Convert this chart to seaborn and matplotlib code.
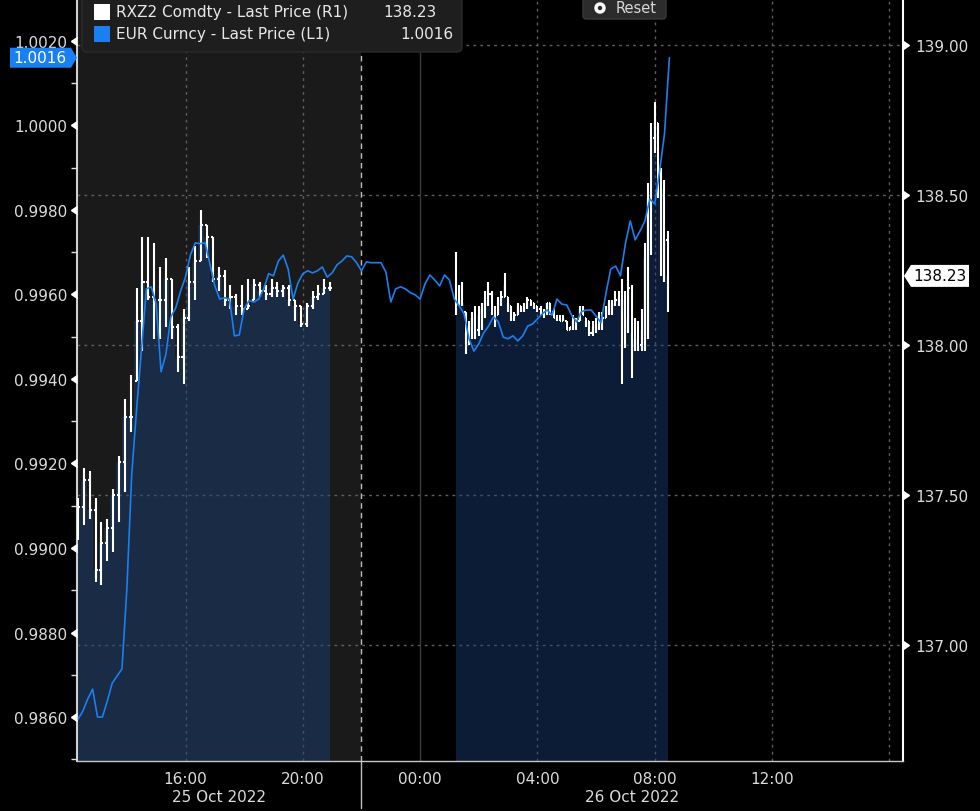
import numpy as np
import pandas as pd
import matplotlib
matplotlib.use("Agg")
import matplotlib.pyplot as plt
import matplotlib.dates as mdates
import matplotlib.transforms as mtransforms
from matplotlib.patches import FancyBboxPatch, Polygon, Rectangle, Circle
from matplotlib.ticker import MultipleLocator
import seaborn as sns

# EUR Curncy last price, 10 minute samples from 25 Oct 12:20 to 26 Oct 08:30
EUR_START = "2022-10-25 12:20"
eur_last = [
    0.98595, 0.98614, 0.98643, 0.98666, 0.98600, 0.98600, 0.98638, 0.98680, 0.98697, 0.98714,
    0.98903, 0.99175, 0.99329, 0.99471, 0.99613, 0.99618, 0.99577, 0.99417, 0.99459, 0.99547,
    0.99568, 0.99608, 0.99641, 0.99693, 0.99722, 0.99720, 0.99722, 0.99672, 0.99620, 0.99589,
    0.99592, 0.99589, 0.99502, 0.99504, 0.99566, 0.99585, 0.99582, 0.99589, 0.99613, 0.99649,
    0.99644, 0.99679, 0.99693, 0.99660, 0.99589, 0.99627, 0.99649, 0.99656, 0.99651, 0.99656,
    0.99665, 0.99641, 0.99651, 0.99670, 0.99679, 0.99691, 0.99689, 0.99675, 0.99656, 0.99677,
    0.99675, 0.99675, 0.99675, 0.99653, 0.99582, 0.99613, 0.99618, 0.99613, 0.99604, 0.99599,
    0.99589, 0.99625, 0.99646, 0.99634, 0.99620, 0.99646, 0.99634, 0.99589, 0.99573, 0.99554,
    0.99495, 0.99466, 0.99483, 0.99509, 0.99525, 0.99547, 0.99535, 0.99499, 0.99495, 0.99502,
    0.99490, 0.99502, 0.99525, 0.99530, 0.99542, 0.99554, 0.99563, 0.99551, 0.99589, 0.99577,
    0.99575, 0.99551, 0.99535, 0.99559, 0.99563, 0.99563, 0.99549, 0.99533, 0.99601, 0.99660,
    0.99667, 0.99644, 0.99720, 0.99774, 0.99729, 0.99750, 0.99774, 0.99826, 0.99814, 0.99892,
    0.99980, 1.00160,
]

# RXZ2 Comdty bars, first session (12 minute bars from 25 Oct 12:20)
RX1_START = "2022-10-25 12:20"
rx1_high = [137.49, 137.59, 137.58, 137.49, 137.41, 137.42, 137.52, 137.63, 137.82, 137.90,
            138.19, 138.36, 138.36, 138.34, 138.26, 138.29, 138.22, 138.07, 138.12, 138.26,
            138.33, 138.45, 138.40, 138.36, 138.26, 138.25, 138.20, 138.17, 138.20, 138.22,
            138.22, 138.21, 138.20, 138.22, 138.21, 138.20, 138.20, 138.15, 138.13, 138.14,
            138.18, 138.20, 138.22, 138.21]
rx1_low = [137.35, 137.40, 137.42, 137.21, 137.20, 137.28, 137.31, 137.41, 137.51, 137.71,
           137.88, 137.98, 138.15, 138.02, 138.02, 138.06, 138.02, 137.91, 137.87, 138.08,
           138.15, 138.28, 138.29, 138.21, 138.18, 138.13, 138.12, 138.10, 138.10, 138.12,
           138.15, 138.16, 138.15, 138.16, 138.16, 138.16, 138.13, 138.08, 138.06, 138.06,
           138.12, 138.15, 138.17, 138.18]
rx1_close = [137.46, 137.55, 137.45, 137.25, 137.34, 137.39, 137.50, 137.61, 137.76, 137.76,
             138.08, 138.21, 138.16, 138.15, 138.15, 138.22, 138.06, 137.96, 138.09, 138.21,
             138.28, 138.40, 138.36, 138.22, 138.23, 138.15, 138.16, 138.13, 138.12, 138.13,
             138.20, 138.18, 138.17, 138.19, 138.18, 138.19, 138.15, 138.13, 138.07, 138.13,
             138.16, 138.17, 138.19, 138.19]

# RXZ2 Comdty bars, second session (26 Oct 01:13 to 08:26)
RX2_START = "2022-10-26 01:13:00"
RX2_END = "2022-10-26 08:26:20"
rx2_high = [138.31, 138.20, 138.21, 138.11, 138.08, 138.11, 138.13, 138.13, 138.14, 138.18,
            138.21, 138.18, 138.13, 138.16, 138.18, 138.24, 138.16, 138.13, 138.11, 138.14,
            138.13, 138.14, 138.16, 138.15, 138.14, 138.13, 138.13, 138.12, 138.14, 138.14,
            138.12, 138.10, 138.10, 138.10, 138.08, 138.06, 138.10, 138.09, 138.13, 138.13,
            138.09, 138.08, 138.08, 138.09, 138.11, 138.11, 138.13, 138.15, 138.15, 138.18,
            138.18, 138.22, 138.18, 138.26, 138.20, 138.09, 138.08, 138.12, 138.34, 138.54,
            138.74, 138.81, 138.74, 138.59, 138.55, 138.38]
rx2_low = [138.10, 138.13, 138.13, 137.97, 138.00, 138.02, 138.02, 138.03, 138.05, 138.09,
           138.13, 138.10, 138.06, 138.10, 138.13, 138.16, 138.11, 138.08, 138.08, 138.10,
           138.11, 138.11, 138.12, 138.13, 138.12, 138.11, 138.10, 138.09, 138.10, 138.10,
           138.09, 138.08, 138.08, 138.08, 138.05, 138.05, 138.05, 138.05, 138.08, 138.10,
           138.06, 138.03, 138.03, 138.04, 138.05, 138.05, 138.09, 138.10, 138.10, 138.13,
           138.13, 137.87, 137.99, 138.04, 137.89, 137.98, 137.98, 137.98, 137.98, 138.02,
           138.30, 138.64, 138.49, 138.23, 138.21, 138.11]
rx2_close = [138.18, 138.15, 138.14, 138.04, 138.04, 138.09, 138.05, 138.10, 138.12, 138.15,
             138.17, 138.11, 138.10, 138.15, 138.16, 138.20, 138.14, 138.09, 138.10, 138.13,
             138.12, 138.13, 138.15, 138.14, 138.13, 138.12, 138.11, 138.11, 138.14, 138.11,
             138.09, 138.09, 138.08, 138.09, 138.05, 138.06, 138.08, 138.08, 138.12, 138.10,
             138.08, 138.04, 138.06, 138.07, 138.09, 138.09, 138.12, 138.14, 138.14, 138.15,
             138.16, 138.15, 138.09, 138.19, 138.04, 138.02, 138.00, 138.05, 138.29, 138.49,
             138.69, 138.74, 138.55, 138.52, 138.35, 138.23]

X_START = "2022-10-25 12:18"
X_END = "2022-10-26 16:28"
SESSION_BREAK = "2022-10-25 22:00"
MIDNIGHT = "2022-10-26 00:00"
date_labels = ["25 Oct 2022", "26 Oct 2022"]
eur_ticks = [0.9860, 0.9880, 0.9900, 0.9920, 0.9940, 0.9960, 0.9980, 1.0000, 1.0020]
rx_ticks = [137.00, 137.50, 138.00, 138.50, 139.00]
EUR_LIM = (0.98496, 1.00299)
RX_LIM = (136.613, 139.153)

EUR_BLUE = "#1a7ff0"
TXT = "#dcdcdc"
W, H = 980, 812

sns.set_style("dark", {"axes.facecolor": "black", "figure.facecolor": "black"})
plt.rcParams["font.family"] = ["DejaVu Sans"]

num = lambda t: mdates.date2num(pd.to_datetime(t))
eur_x = mdates.date2num(pd.date_range(EUR_START, periods=len(eur_last), freq="10min"))
rx1_x = mdates.date2num(pd.date_range(RX1_START, periods=len(rx1_close), freq="12min"))
rx2_x = mdates.date2num(pd.date_range(RX2_START, RX2_END, periods=len(rx2_close)))

fig = plt.figure(figsize=(W / 100, H / 100), dpi=100, facecolor="black")
ax = fig.add_axes([77 / W, 50 / H, 826 / W, 762 / H])
ax.set_facecolor("black")
ax2 = ax.twinx()
ax.grid(False)
ax2.grid(False)

# background: previous session shading, grid, separators
ax.axvspan(num(X_START), num(SESSION_BREAK), color="#1a1a1a", lw=0, zorder=0)
for v in rx_ticks:
    ax.axhline(v, color="#5e5e5e", lw=1, ls=(0, (2, 3)), zorder=1)

tick_times = pd.date_range("2022-10-25 14:00", "2022-10-26 16:00", freq="2h")
tick_labels = [t.strftime("%H:%M") if t.hour % 4 == 0 and t != tick_times[-1] else ""
               for t in tick_times]
for t in tick_times:
    if t.hour % 4 == 0 and t != pd.Timestamp(MIDNIGHT):
        ax.axvline(num(t), color="#5e5e5e", lw=1, ls=(0, (2, 3)), zorder=1)
ax.axvline(num(MIDNIGHT), color="#3c3c3c", lw=1, zorder=1)
ax.axvline(num(SESSION_BREAK), color="#bdbdbd", lw=1, ls=(0, (4, 3)), zorder=1)
xb = mtransforms.blended_transform_factory(ax.transData, ax.transAxes)
ax.plot([num(SESSION_BREAK)] * 2, [0, -0.062], transform=xb, color="#bdbdbd",
        lw=1, clip_on=False)

# RXZ2 area + bars
for xs, hi, lo, cl in [(rx1_x, rx1_high, rx1_low, rx1_close),
                       (rx2_x, rx2_high, rx2_low, rx2_close)]:
    hi, lo, cl = np.array(hi), np.array(lo), np.array(cl)
    ax.fill_between(xs, cl, RX_LIM[0] - 1, step="mid", color="#1b407a", alpha=0.45,
                    lw=0, zorder=2)
    w = 0.35 * (xs[1] - xs[0])
    op = np.clip(np.r_[cl[0], cl[:-1]], lo, hi)
    ax.vlines(xs, lo, hi, color="white", lw=1.5, zorder=4)
    ax.hlines(cl, xs, xs + w, color="white", lw=1.5, zorder=4)
    ax.hlines(op, xs - w, xs, color="white", lw=1.5, zorder=4)

# EUR line
sns.lineplot(x=eur_x, y=eur_last, ax=ax2, color=EUR_BLUE, linewidth=1.2, zorder=5)
ax2.set_xlabel("")
ax2.set_ylabel("")

ax.set_xlim(num(X_START), num(X_END))
ax.set_ylim(*RX_LIM)
ax2.set_ylim(*EUR_LIM)

# x axis
ax.set_xticks(mdates.date2num(tick_times))
ax.set_xticklabels(tick_labels)
ax.tick_params(axis="x", length=5, width=1, color="#bbbbbb", labelcolor=TXT,
               labelsize=11, pad=2)
day_mid = [(num(X_START) + num(SESSION_BREAK)) / 2, (num(SESSION_BREAK) + num(X_END)) / 2]
for xm, lab in zip(day_mid, date_labels):
    ax.text(xm, -0.047, lab, transform=xb, ha="center", va="center", color=TXT, fontsize=11)

# right axis (RXZ2)
ax.yaxis.tick_right()
ax.set_yticks(rx_ticks)
ax.set_yticklabels([f"{v:.2f}" for v in rx_ticks])
ax.tick_params(axis="y", length=0, pad=9, labelcolor=TXT, labelsize=11)
yr = mtransforms.blended_transform_factory(ax.transAxes, ax.transData)
ax.plot([1] * len(rx_ticks), rx_ticks, transform=yr, ls="none", marker=9, ms=6,
        color="white", clip_on=False, zorder=6)

# left axis (EUR)
ax2.yaxis.tick_left()
ax2.set_yticks(eur_ticks)
ax2.set_yticklabels([f"{v:.4f}" for v in eur_ticks])
ax2.yaxis.set_minor_locator(MultipleLocator(0.001))
ax2.tick_params(axis="y", which="major", length=0, pad=7, labelcolor=TXT, labelsize=11)
ax2.tick_params(axis="y", which="minor", length=4, width=1, color="#dddddd")
yl = mtransforms.blended_transform_factory(ax2.transAxes, ax2.transData)
ax2.plot([0] * len(eur_ticks), eur_ticks, transform=yl, ls="none", marker=8, ms=6,
         color="white", clip_on=False, zorder=6)

for s in ax.spines.values():
    s.set_visible(False)
for s in ax2.spines.values():
    s.set_visible(False)
ax.spines["left"].set_visible(True)
ax.spines["left"].set_color("#d0d0d0")
ax.spines["left"].set_linewidth(1.5)
ax.spines["right"].set_visible(True)
ax.spines["right"].set_color("#ffffff")
ax.spines["right"].set_linewidth(1.5)
ax.spines["bottom"].set_visible(True)
ax.spines["bottom"].set_color("#c8c8c8")
ax.spines["bottom"].set_linewidth(1)

ident = mtransforms.IdentityTransform()

# last price labels
px, py = yl.transform((0, eur_last[-1]))
fig.add_artist(Polygon([(px, py), (px - 6, py + 10), (px - 67, py + 10), (px - 67, py - 10),
                        (px - 6, py - 10)], closed=True, fc=EUR_BLUE, ec="none",
                       transform=ident, zorder=3))
fig.text(px - 37, py, f"{eur_last[-1]:.4f}", transform=ident, ha="center", va="center",
         color="white", fontsize=11, zorder=4)
px, py = yr.transform((1, rx2_close[-1]))
fig.add_artist(Polygon([(px + 1, py), (px + 8, py + 11), (px + 66, py + 11),
                        (px + 66, py - 11), (px + 8, py - 11)], closed=True, fc="white",
                       ec="none", transform=ident, zorder=3))
fig.text(px + 37, py, f"{rx2_close[-1]:.2f}", transform=ident, ha="center", va="center",
         color="black", fontsize=11, zorder=4)

# legend
fig.add_artist(FancyBboxPatch((82, H - 53), 380, 62, boxstyle="round,pad=0,rounding_size=5",
                              fc="#1e1e1e", ec="#2a2a2a", lw=1, transform=ident, zorder=3))
fig.add_artist(Rectangle((94, H - 21), 16, 16, fc="white", ec="none", transform=ident, zorder=4))
fig.add_artist(Rectangle((94, H - 43), 16, 16, fc=EUR_BLUE, ec="none", transform=ident, zorder=4))
fig.text(116, H - 13, "RXZ2 Comdty - Last Price (R1)", transform=ident, va="center",
         color="#e8e8e8", fontsize=11, zorder=5)
fig.text(383, H - 13, f"{rx2_close[-1]:.2f}", transform=ident, va="center",
         color="#e8e8e8", fontsize=11, zorder=5)
fig.text(116, H - 35, "EUR Curncy - Last Price (L1)", transform=ident, va="center",
         color="#e8e8e8", fontsize=11, zorder=5)
fig.text(453, H - 35, f"{eur_last[-1]:.4f}", transform=ident, va="center", ha="right",
         color="#e8e8e8", fontsize=11, zorder=5)

# reset button
fig.add_artist(FancyBboxPatch((583, H - 20), 83, 28, boxstyle="round,pad=0,rounding_size=3",
                              fc="#2c2c2c", ec="#3a3a3a", lw=1, transform=ident, zorder=3))
fig.add_artist(Circle((600, H - 9), 4, fc="none", ec="white", lw=2.5, transform=ident, zorder=4))
fig.text(616, H - 9, "Reset", transform=ident, va="center", color="#d8d8d8",
         fontsize=10.5, zorder=5)

fig.savefig("out.png", dpi=100, facecolor="black")
